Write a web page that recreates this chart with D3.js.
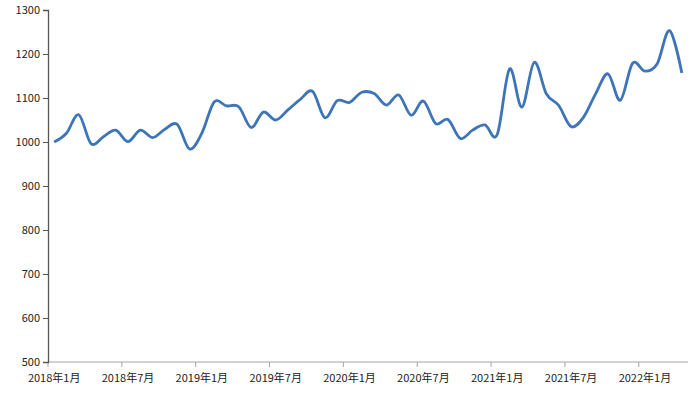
<!DOCTYPE html>
<html>
<head>
<meta charset="utf-8">
<script src="https://cdn.jsdelivr.net/npm/d3@7"></script>
<style>
  body { margin: 0; background: #fff; }
  text { font-family: "Noto Sans CJK SC", "Noto Sans", sans-serif; font-size: 11px; fill: #222; }
</style>
</head>
<body>
<svg id="chart" width="700" height="394"></svg>
<script>
// Months, 2018-01 to 2022-04
const months = [];
for (let y = 2018; y <= 2022; y++) {
  for (let m = 1; m <= 12; m++) {
    if (y === 2022 && m > 4) break;
    months.push(y + "年" + m + "月");
  }
}

const values = [
  1000, 1020, 1062, 996, 1012, 1027, 1001, 1027, 1010, 1029, 1040, 984,
  1020, 1091, 1082, 1080, 1033, 1068, 1050, 1073, 1097, 1115, 1055, 1094,
  1090, 1113, 1110, 1084, 1107, 1061, 1093, 1042, 1051, 1008, 1027, 1039,
  1017, 1166, 1079, 1181, 1109, 1083, 1035, 1056, 1110, 1155, 1095, 1179,
  1161, 1178, 1253, 1157
];

const yTicks = [500, 600, 700, 800, 900, 1000, 1100, 1200, 1300];

const svg = d3.select("#chart");

const x = d3.scaleBand().domain(months).range([48, 688]).padding(0);
const y = d3.scaleLinear().domain([500, 1300]).range([362, 10]);

// x axis (ticks between categories, label every 6 months)
const xAxis = svg.append("g");
xAxis.append("line")
    .attr("x1", 48).attr("x2", 688)
    .attr("y1", y(500)).attr("y2", y(500))
    .attr("stroke", "#a6a6a6");
months.forEach((m, i) => {
  if (i % 6 !== 0) return;
  xAxis.append("line")
      .attr("x1", x(m)).attr("x2", x(m))
      .attr("y1", y(500)).attr("y2", y(500) + 5)
      .attr("stroke", "#a6a6a6");
  xAxis.append("text")
      .attr("x", x(m) + x.bandwidth() / 2)
      .attr("y", y(500) + 20)
      .attr("text-anchor", "middle")
      .text(m);
});

// y axis
const yAxis = svg.append("g").attr("transform", "translate(48,0)")
    .call(d3.axisLeft(y).tickValues(yTicks).tickFormat(d3.format("d")).tickSize(5).tickPadding(3));
yAxis.select(".domain").attr("stroke", "#555").attr("stroke-width", 1.3);
yAxis.selectAll(".tick line").attr("stroke", "#555");
yAxis.selectAll("text").style("font-size", "11px").attr("fill", "#222");

// smoothed line
const line = d3.line()
    .x((d, i) => x(months[i]) + x.bandwidth() / 2)
    .y(d => y(d))
    .curve(d3.curveCardinal.tension(0));

svg.append("path")
    .datum(values)
    .attr("fill", "none")
    .attr("stroke", "#3e74b8")
    .attr("stroke-width", 2.8)
    .attr("stroke-linejoin", "round")
    .attr("d", line);
</script>
</body>
</html>
